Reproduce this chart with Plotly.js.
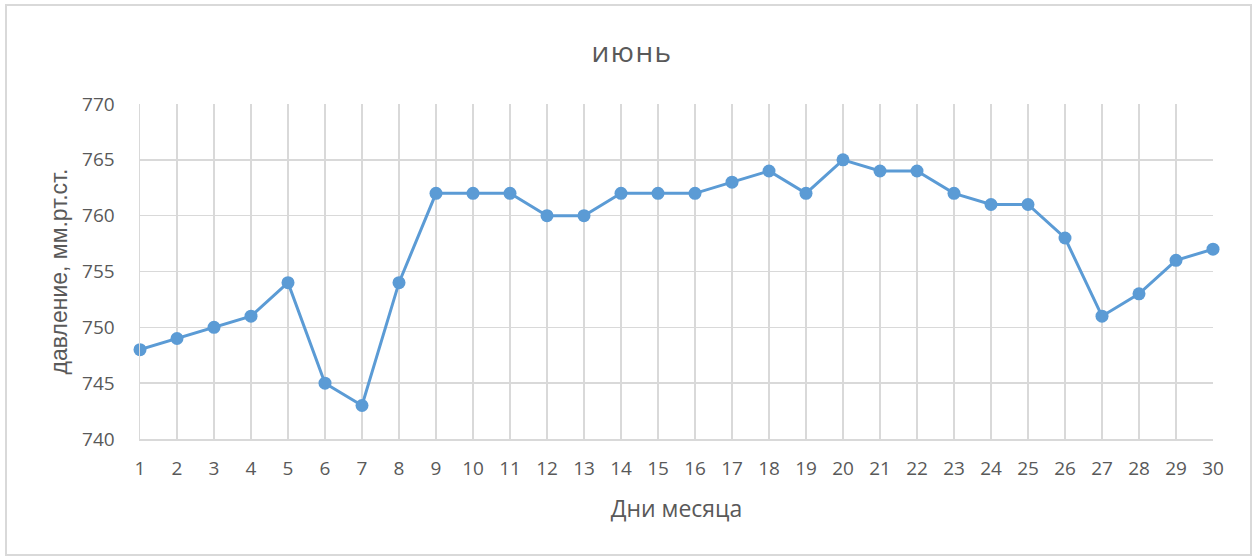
<!DOCTYPE html>
<html><head><meta charset="utf-8">
<script src="https://cdn.plot.ly/plotly-3.0.1.min.js"></script>
<style>html,body{margin:0;padding:0;background:#fff}#chart{width:1254px;height:558px}.gtitle{letter-spacing:1.5px}</style>
</head><body><div id="chart"></div>
<script>
const days = [1,2,3,4,5,6,7,8,9,10,11,12,13,14,15,16,17,18,19,20,21,22,23,24,25,26,27,28,29,30];
const pressure = [748,749,750,751,754,745,743,754,762,762,762,760,760,762,762,762,763,764,762,765,764,764,762,761,761,758,751,753,756,757];
const yTicks = [740,745,750,755,760,765,770];
const titleText = 'июнь';
const xTitle = 'Дни месяца';
const yTitle = 'давление, мм.рт.ст.';

const W=1254,H=558,L=140,R=41,T=104,B=119;
const pw=W-L-R, ph=H-T-B;
const px = v => (v-L)/pw, py = v => (H-B-v)/ph;
const grid='#d9d9d9', txt='#595959', font='Open Sans, sans-serif';

Plotly.newPlot('chart',[{
  x: days, y: pressure, type:'scatter', mode:'lines+markers', cliponaxis:false,
  line:{color:'#5b9bd5', width:3},
  marker:{color:'#5b9bd5', size:13},
  hoverinfo:'skip'
}],{
  width:W,height:H,
  margin:{l:L,r:R,t:T,b:B},
  paper_bgcolor:'#fff', plot_bgcolor:'#fff',
  showlegend:false,
  font:{family:font,color:txt},
  title:{text:titleText, font:{size:28,color:txt,family:font}, xref:'paper', x:(632-L)/pw, xanchor:'center', yref:'container', y:1-52/H, yanchor:'middle'},
  xaxis:{range:[1,30], tickvals:days, ticktext:days.map(String), showgrid:true, gridcolor:grid, gridwidth:1.5,
    showline:true, linecolor:grid, linewidth:1.5, zeroline:false, ticks:'', tickfont:{size:19,color:txt}, ticklabelstandoff:12,
    title:{text:xTitle, font:{size:23,color:txt}, standoff:20}},
  yaxis:{range:[740,770], tickvals:yTicks, showgrid:true, gridcolor:grid, gridwidth:1.5,
    showline:true, linecolor:grid, linewidth:1.5, zeroline:false, ticks:'', tickfont:{size:19,color:txt}, ticklabelstandoff:20,
    title:{text:yTitle, font:{size:23,color:txt,family:'Liberation Sans, Arial, sans-serif'}, standoff:8}},
  shapes:[{type:'rect', xref:'paper', yref:'paper', x0:px(6), x1:px(1251), y0:py(555), y1:py(5), line:{color:'#d9d9d9', width:2}, fillcolor:'rgba(0,0,0,0)', layer:'below'}]
},{displayModeBar:false, staticPlot:true});
</script></body></html>
